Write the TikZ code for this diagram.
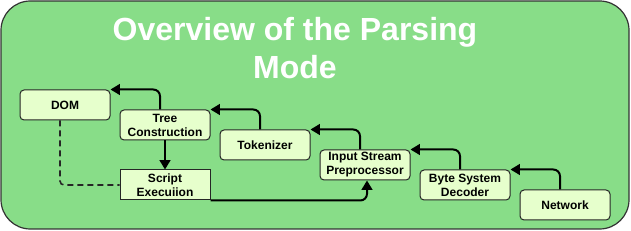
\documentclass[tikz,border=0pt]{standalone}
\usepackage{fontspec}
\setmainfont{Liberation Sans}
\usetikzlibrary{arrows.meta}
\definecolor{bggreen}{HTML}{88DD88}
\definecolor{boxgreen}{HTML}{E6FFCC}
\begin{document}
\begin{tikzpicture}[x=0.75pt,y=-0.75pt,
  box/.style={draw=black!85,fill=boxgreen,rounded corners=3pt,minimum width=67.5pt,minimum height=22.5pt,
    align=center,font=\fontsize{9}{10.5}\selectfont\bfseries,inner sep=0pt,line width=0.75pt},
  sqbox/.style={box,rounded corners=0pt},
  flow/.style={draw=black,line width=1.5pt,rounded corners=5pt,-{Triangle[length=7pt,width=8pt]}},
  dashline/.style={draw=black!85,line width=1.2pt,dashed,dash pattern=on 4.5pt off 3pt,rounded corners=3pt}]
\useasboundingbox (0,0) rectangle (631,231);
\draw[fill=bggreen,draw=black!80,line width=0.9pt,rounded corners=22pt] (1,1) rectangle (629,229);
\node[text=white,font=\fontsize{24}{28.5}\selectfont\bfseries,align=center] (title) at (295,48) {Overview of the Parsing\\Mode};
\node[box] (dom) at (65,105) {DOM};
\node[box] (tree) at (165,125) {Tree\\Construction};
\node[sqbox] (script) at (165,185) {Script\\Execuiion};
\node[box] (tok) at (265,145) {Tokenizer};
\node[box] (isp) at (365,165) {Input Stream\\Preprocessor};
\node[box] (byte) at (465,185) {Byte System\\Decoder};
\node[box] (net) at (565,205) {Network};
\draw[flow] ([xshift=-3.75pt]tree.north) |- (dom.north east);
\draw[flow] ([xshift=-3.75pt]tok.north) |- (tree.north east);
\draw[flow] ([xshift=-3.75pt]isp.north) |- (tok.north east);
\draw[flow] ([xshift=-3.75pt]byte.north) |- (isp.north east);
\draw[flow] ([xshift=-3.75pt]net.north) |- (byte.north east);
\draw[flow,rounded corners=0pt] (tree.south) -- (script.north);
\draw[flow] (script.south east) -| ([xshift=1.5pt]isp.south);
\draw[dashline] ([xshift=-3.75pt]dom.south) |- (script.west);
\end{tikzpicture}
\end{document}
